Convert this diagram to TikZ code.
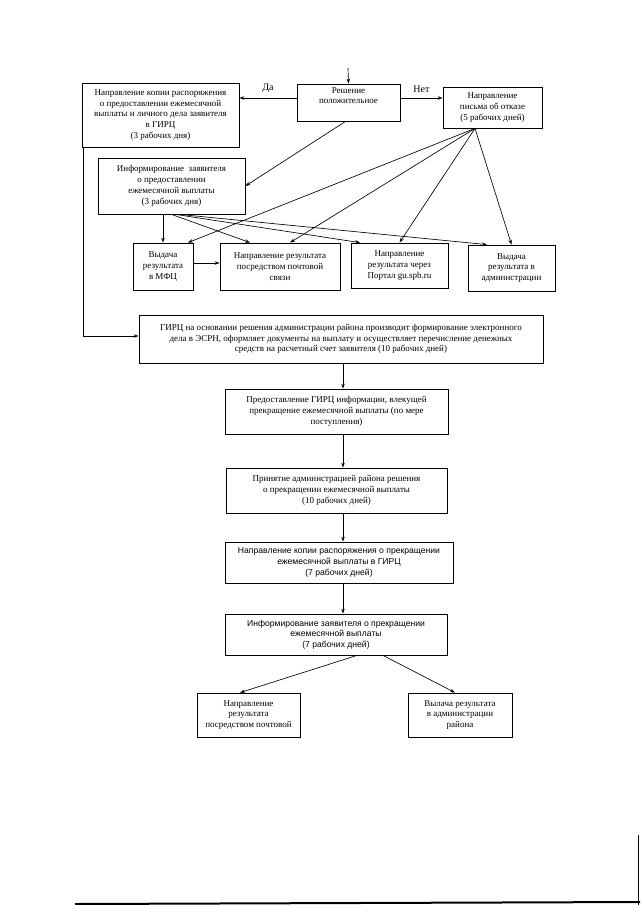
\documentclass[tikz,border=0pt]{standalone}
\usepackage{fontspec}
\setmainfont{Liberation Serif}
\newfontfamily\sansf{Liberation Sans}
\usepackage{tikz}
\usetikzlibrary{calc, arrows.meta}

\tikzset{
	box/.style 2 args={draw, line width=0.8pt, align=center, inner sep=1pt, minimum width=#1pt, minimum height=#2pt, font=\fontsize{9}{10.8}\selectfont},
	sbox/.style 2 args={box={#1}{#2}, font=\sansf\fontsize{8.6}{10.6}\selectfont},
	arr/.style={line width=0.65pt, -{Stealth[length=5pt, width=3.5pt]}}
}

\begin{document}
\begin{tikzpicture}[x=1pt, y=-1pt]
		\useasboundingbox (0,0) rectangle (640,905);
		\coordinate (start) at (348,68);
		\coordinate (axis) at (343,0);

		\node[box={103}{37}] (dec) at (348.5,102.5) {Решение\\положительное\\[3pt]};
		\node[box={157}{64}] (copy) at (160.5,115) {Направление копии распоряжения\\о предоставлении ежемесячной\\выплаты и личного дела заявителя\\в ГИРЦ\\(3 рабочих дня)};
		\node[box={99}{41}] (refuse) at (492.5,107.5) {Направление\\письма об отказе\\(5 рабочих дней)};
		\node[box={147}{56}] (inform) at (171.5,186) {Информирование\ \ заявителя\\о предоставлении\\ежемесячной выплаты\\(3 рабочих дня)};

		\node[box={60}{47}] (mfc) at (163,266.5) {Выдача\\результата\\в МФЦ};
		\node[box={120}{47}] (post) at (280,266.5) {Направление результата\\посредством почтовой\\связи};
		\node[box={97}{45}] (portal) at (399.5,265.5) {Направление\\результата через\\Портал gu.spb.ru};
		\node[box={87}{46}] (admin) at (511.5,268) {Выдача\\результата в\\администрации};

		\node[box={404}{48}] (girc) at (341,339) {ГИРЦ на основании решения администрации района производит формирование электронного\\дела в ЭСРН, оформляет документы на выплату и осуществляет перечисление денежных\\средств на расчетный счет заявителя (10 рабочих дней)};
		\node[box={223}{45}] (info) at (336.5,411.5) {Предоставление ГИРЦ информации, влекущей\\прекращение ежемесячной выплаты (по мере\\поступления)};
		\node[box={221}{45}] (accept) at (336.5,490.5) {Принятие администрацией района решения\\о прекращении ежемесячной выплаты\\(10 рабочих дней)};
		\node[sbox={228}{41}] (copy2) at (339,562.5) {Направление копии распоряжения о прекращении\\ежемесячной выплаты в ГИРЦ\\(7 рабочих дней)};
		\node[sbox={222}{41}] (notify) at (336,634.5) {Информирование заявителя о прекращении\\ежемесячной выплаты\\(7 рабочих дней)};

		\node[box={103}{44}] (postb) at (248.5,715) {Направление\\результата\\посредством почтовой};
		\node[box={104}{44}] (adminb) at (460,715) {Вылача результата\\в администрации\\района};

		\draw[arr] (start) -- (dec.north);
		\draw[arr] ([yshift=4.5pt]dec.west) -- ([yshift=4.5pt]dec.west -| copy.east) node[midway, above=2pt] {Да};
		\draw[arr] ([yshift=4.5pt]dec.east) -- ([yshift=4.5pt]dec.east -| refuse.west) node[midway, above=2pt] {Нет};
		\draw[arr] ([xshift=-3pt]dec.south) -- (inform.east);
		\draw[arr] ([xshift=2pt]copy.south west) |- ([yshift=3pt]girc.west);

		\coordinate (r) at ([xshift=-17.5pt]refuse.south);
		\draw[arr] (r) -- ([xshift=25pt]mfc.north);
		\draw[arr] (r) -- ([xshift=10pt]post.north);
		\draw[arr] (r) -- (portal.north);
		\draw[arr] (r) -- (admin.north);

		\draw[arr] (inform.south -| mfc.north) -- (mfc.north);
		\draw[arr] (inform.south) -- ([xshift=-30pt]post.north);
		\draw[arr] ([xshift=4pt]inform.south) -- ([xshift=-39.5pt]portal.north);
		\draw[arr] ([xshift=8pt]inform.south) -- ([xshift=-24.5pt]admin.north);
		\draw[arr] ([yshift=3.5pt]mfc.east) -- ([yshift=3.5pt]mfc.east -| post.west);

		\draw[arr] (girc.south -| axis) -- (info.north -| axis);
		\draw[arr] (info.south -| axis) -- (accept.north -| axis);
		\draw[arr] (accept.south -| axis) -- (copy2.north -| axis);
		\draw[arr] (copy2.south -| axis) -- (notify.north -| axis);

		\draw[arr] ([xshift=21pt]notify.south) -- ([xshift=-8.5pt]postb.north);
		\draw[arr] ([xshift=47pt]notify.south) -- ([xshift=-5pt]adminb.north);

		% page edge
		\draw[line width=2pt] (75,904) -- (640,902);
		\draw[line width=1.5pt] (638.5,835) -- (638.5,905);
	\end{tikzpicture}
\end{document}
